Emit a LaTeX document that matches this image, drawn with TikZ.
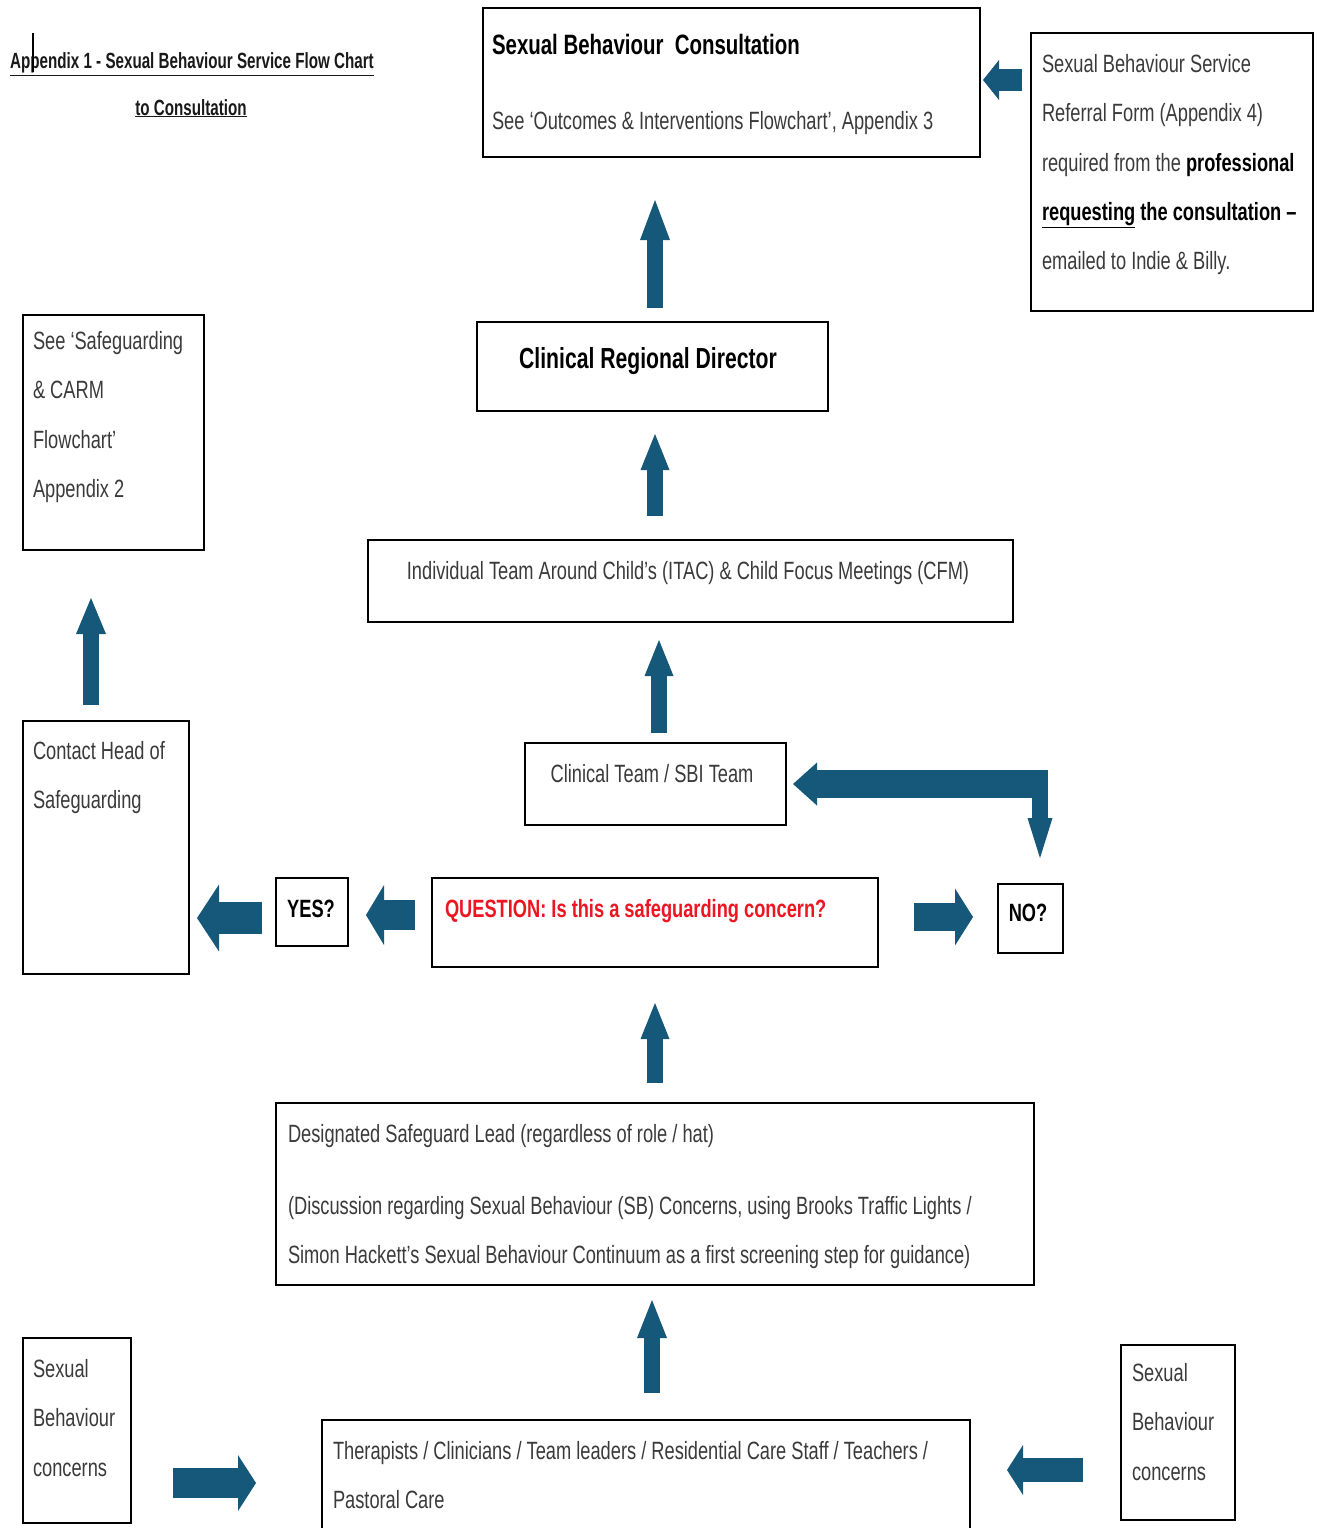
\documentclass[tikz,border=0pt]{standalone}
\usepackage{fontspec}
\setmainfont{Liberation Sans}[FakeStretch=0.73]
\newfontfamily\titlefont{Liberation Sans}[FakeStretch=0.69]
\usetikzlibrary{arrows.meta,calc}
\definecolor{arrowblue}{RGB}{22,88,122}
\definecolor{txtgrey}{RGB}{58,58,58}
\definecolor{qred}{RGB}{236,22,34}
\newcommand\mlines[1]{\vtop{\baselineskip=49.5pt\lineskiplimit=-100pt #1}}
\newcommand\tline[1]{\hbox{#1}}
\tikzset{
  box/.style={draw=black, line width=2.2pt, inner sep=0pt, outer sep=0pt, anchor=north west},
  txt/.style={anchor=base west, inner sep=0pt, outer sep=0pt, text=txtgrey, font=\fontsize{25}{49.5}\selectfont},
  btxt/.style={txt, text=black, font=\fontsize{25}{49.5}\selectfont\bfseries},
  barrow/.style n args={3}{draw=arrowblue, line width=#1pt, line cap=butt,
    arrows={-{Triangle[width=#2pt,length=#3pt,line width=0pt]}}},
}
\begin{document}
\begin{tikzpicture}[x=1pt,y=-1pt]
\useasboundingbox (0,0) rectangle (1323,1528);
% title
\node[anchor=base west, inner sep=0pt, text=black!90, font=\fontsize{22}{30}\titlefont\bfseries] (title1) at (10,69) {\underline{Appendix 1 - Sexual Behaviour Service Flow Chart}};
\node[anchor=base, inner sep=0pt, text=black!90, font=\fontsize{22}{30}\titlefont\bfseries] (title2) at (191,115) {\underline{to Consultation}};
\draw[line width=1.3pt] (33,33) coordinate (cursA) -- (33,72) coordinate (cursB);
% boxes
\node[box, minimum width=497pt, minimum height=149pt] (consult) at (483,8) {};
\node[box, minimum width=282pt, minimum height=278pt] (ref) at (1031,33) {};
\node[box, minimum width=351pt, minimum height=89pt] (crd) at (477,322) {};
\node[box, minimum width=181pt, minimum height=235pt] (sg) at (23,315) {};
\node[box, minimum width=645pt, minimum height=82pt] (itac) at (368,540) {};
\node[box, minimum width=261pt, minimum height=82pt] (clin) at (525,743) {};
\node[box, minimum width=166pt, minimum height=253pt] (contact) at (23,721) {};
\node[box, minimum width=72pt, minimum height=68pt] (yes) at (276,878) {};
\node[box, minimum width=446pt, minimum height=89pt] (question) at (432,878) {};
\node[box, minimum width=65pt, minimum height=69pt] (no) at (998,884) {};
\node[box, minimum width=758pt, minimum height=182pt] (dsl) at (276,1103) {};
\node[box, minimum width=648pt, minimum height=130pt] (ther) at (322,1420) {};
\node[box, minimum width=108pt, minimum height=185pt] (sbl) at (23,1338) {};
\node[box, minimum width=114pt, minimum height=175pt] (sbr) at (1121,1345) {};
% texts
\node[btxt, font=\fontsize{28}{49.5}\selectfont\bfseries] (consult-t1) at (492,55) {Sexual Behaviour\ \ Consultation};
\node[txt] (consult-t2) at (492,129) {See ‘Outcomes \& Interventions Flowchart’, Appendix 3};
\node[txt] (ref-t) at (1042,72) {\mlines{\tline{Sexual Behaviour Service}\tline{Referral Form (Appendix 4)}\tline{required from the \textcolor{black}{\bfseries professional}}\tline{\textcolor{black}{\bfseries\underline{requesting} the consultation –}}\tline{emailed to Indie \& Billy.}}};
\node[btxt, anchor=base, font=\fontsize{29}{49.5}\selectfont\bfseries] (crd-t) at (648,368) {Clinical Regional Director};
\node[txt] (sg-t) at (33,349) {\mlines{\tline{See ‘Safeguarding}\tline{\& CARM}\tline{Flowchart’}\tline{Appendix 2}}};
\node[txt, anchor=base] (itac-t) at (688,579) {Individual Team Around Child’s (ITAC) \& Child Focus Meetings (CFM)};
\node[txt, anchor=base] (clin-t) at (652,782) {Clinical Team / SBI Team};
\node[txt] (contact-t) at (33,759) {\mlines{\tline{Contact Head of}\tline{Safeguarding}}};
\node[btxt, anchor=base] (yes-t) at (311,917) {YES?};
\node[btxt, text=qred] (question-t) at (445,917) {QUESTION: Is this a safeguarding concern?};
\node[btxt, anchor=base] (no-t) at (1028,921) {NO?};
\node[txt] (dsl-t1) at (288,1142) {Designated Safeguard Lead (regardless of role / hat)};
\node[txt] (dsl-t2) at (288,1214) {\mlines{\tline{(Discussion regarding Sexual Behaviour (SB) Concerns, using Brooks Traffic Lights /}\tline{Simon Hackett’s Sexual Behaviour Continuum as a first screening step for guidance)}}};
\node[txt] (ther-t) at (333,1459) {\mlines{\tline{Therapists / Clinicians / Team leaders / Residential Care Staff / Teachers /}\tline{Pastoral Care}}};
\node[txt] (sbl-t) at (33,1377) {\mlines{\tline{Sexual}\tline{Behaviour}\tline{concerns}}};
\node[txt] (sbr-t) at (1132,1381) {\mlines{\tline{Sexual}\tline{Behaviour}\tline{concerns}}};
% arrows
\draw[barrow={22}{40}{16}, shorten <=9pt, shorten >=3pt] ([yshift=2.5pt]consult.east -| ref.west) -- ([yshift=2.5pt]consult.east);
\draw[barrow={16}{30}{40}, shorten <=14pt, shorten >=43pt] ([xshift=2.5pt]crd.north) -- ([xshift=2.5pt]consult.south -| crd.north);
\draw[barrow={16}{29}{36}, shorten <=24pt, shorten >=23pt] ([xshift=2.5pt]crd.south |- itac.north) -- ([xshift=2.5pt]crd.south);
\draw[barrow={16}{29}{36}, shorten <=10pt, shorten >=18pt] ([xshift=3.5pt]clin.north) -- ([xshift=3.5pt]clin.north |- itac.south);
\draw[barrow={16}{29}{36}, shorten <=20pt, shorten >=36pt] (dsl.north) -- (question.south);
\draw[barrow={16}{30}{38}, shorten <=27pt, shorten >=15pt] ([xshift=6pt]ther.north) -- ([xshift=6pt]ther.north |- dsl.south);
\draw[barrow={30}{56}{18}, shorten <=42pt, shorten >=66pt] ([yshift=-52.5pt]sbl.east) -- ([yshift=-52.5pt]sbl.east -| ther.west);
\draw[barrow={24}{50}{16}, shorten <=38pt, shorten >=37pt] ([yshift=-37.5pt]sbr.west) -- ([yshift=-37.5pt]sbr.west -| ther.east);
\draw[barrow={28}{57}{18}, shorten <=36pt, shorten >=25pt] ([yshift=5.5pt]question.east) -- ([yshift=5.5pt]question.east -| no.west);
\draw[barrow={30}{60}{18}, shorten <=17pt, shorten >=18pt] ([yshift=7.5pt]question.west) -- ([yshift=7.5pt]question.west -| yes.east);
\draw[barrow={32}{67}{22}, shorten <=14pt, shorten >=8pt] ([yshift=-6pt]yes.west) -- ([yshift=-6pt]yes.west -| contact.east);
\draw[barrow={16}{30}{36}, shorten <=16pt, shorten >=48pt] ([xshift=-15pt]contact.north) -- ([xshift=-15pt]contact.north |- sg.south);
% elbow arrow NO? -> Clinical Team
\draw[barrow={28}{43}{24}, shorten >=7pt] ([xshift=17.5pt]no.north |- clin.east) -- (clin.east);
\draw[barrow={16}{25}{40}, shorten >=26pt] ([xshift=9.5pt]no.north |- clin.east) -- ([xshift=9.5pt]no.north);
\end{tikzpicture}
\end{document}
